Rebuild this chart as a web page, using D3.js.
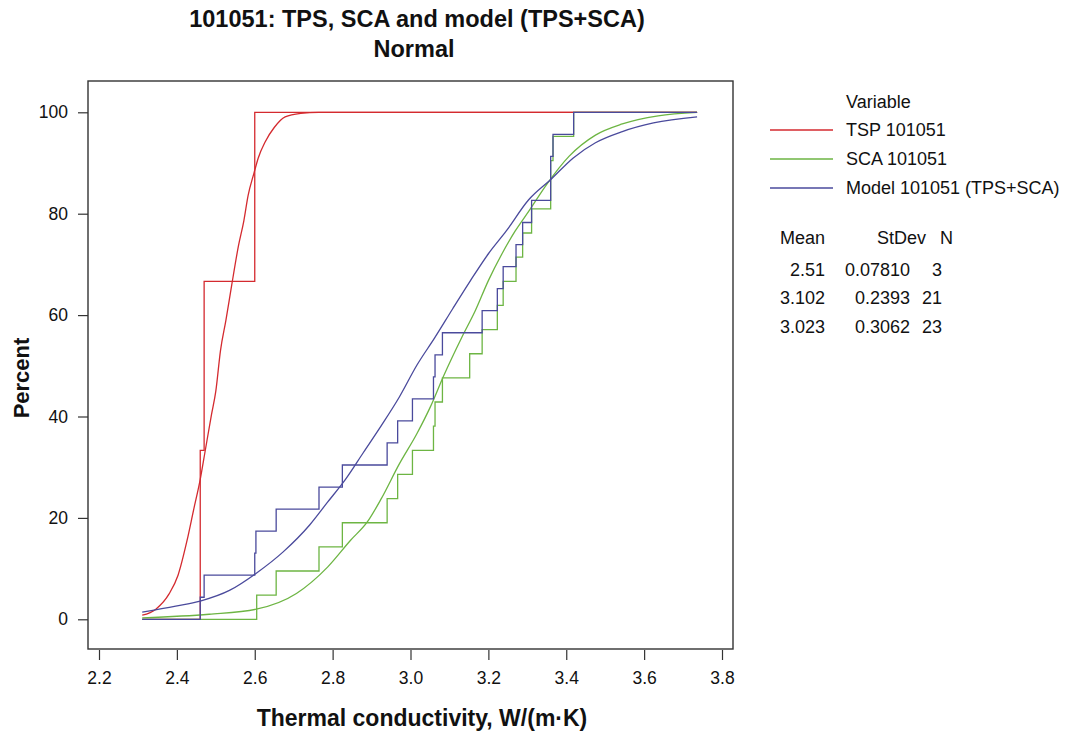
<!DOCTYPE html>
<html>
<head>
<meta charset="utf-8">
<script src="https://cdn.jsdelivr.net/npm/d3@7"></script>
<style>
  html, body { margin: 0; padding: 0; background: #fff; }
  svg { display: block; font-family: "Liberation Sans", Arial, Helvetica, sans-serif; }
</style>
</head>
<body>
<svg id="chart" width="1070" height="734"></svg>
<script>
// ---------------- DATA ----------------
const seriesNames = ["TSP 101051", "SCA 101051", "Model 101051 (TPS+SCA)"];
const seriesColors = ["#d42a2f", "#6db543", "#4a4a9c"];

// sample values (empirical CDF steps)
const tpsValues = [2.460, 2.470, 2.600];
const scaValues = [2.605, 2.655, 2.765, 2.825, 2.940, 2.967, 3.005, 3.059, 3.063, 3.082,
                   3.152, 3.184, 3.223, 3.238, 3.271, 3.288, 3.311, 3.360, 3.360, 3.366, 3.419];
const modelValues = [2.460, 2.470, 2.600, 2.603, 2.655, 2.765, 2.825, 2.940, 2.967, 3.005,
                     3.059, 3.063, 3.082, 3.184, 3.223, 3.238, 3.271, 3.288, 3.311, 3.360,
                     3.360, 3.366, 3.419];

// x extent of all drawn lines
const lineStartX = 2.311;
const lineEndX = 3.736;

// fitted normal curves, read as (x, percent) points
const tpsFitX   = [2.311, 2.346, 2.380, 2.403, 2.426, 2.443, 2.460, 2.472, 2.489, 2.500, 2.512, 2.526, 2.541, 2.558, 2.572, 2.583, 2.598, 2.609, 2.627, 2.650, 2.678, 2.718, 2.764, 3.736];
const tpsFitPct = [0.8,   2.0,   5.0,   8.7,   15.5,  21.6,  27.6,  32.9,  40.4,  45.0,  53.0,  59.0,  66.0,  73.6,  78.6,  83.6,  88.0,  91.0,  94.2,  97.0,  99.1,  99.8,  100,   100];

const scaFitX   = [2.311, 2.483, 2.604, 2.707, 2.787, 2.845, 2.890, 2.925, 2.971, 3.017, 3.051, 3.085, 3.131, 3.166, 3.200, 3.235, 3.269, 3.303, 3.349, 3.407, 3.475, 3.544, 3.636, 3.736];
const scaFitPct = [0.3,   1.0,   2.0,   5.1,   10.3,  15.5,  19.3,  23.8,  30.6,  36.7,  41.9,  48.0,  55.5,  60.8,  66.8,  72.1,  76.6,  80.4,  85.7,  91.3,  95.5,  97.7,  99.3,  100];

const modelFitX   = [2.311, 2.397, 2.460, 2.535, 2.604, 2.673, 2.741, 2.787, 2.833, 2.879, 2.925, 2.971, 3.017, 3.062, 3.108, 3.154, 3.200, 3.246, 3.303, 3.361, 3.418, 3.475, 3.544, 3.624, 3.736];
const modelFitPct = [1.4,   2.6,   3.6,   5.7,   9.1,   13.3,  18.6,  23.1,  27.6,  32.9,  38.2,  43.8,  50.2,  55.5,  61.2,  66.8,  72.1,  76.6,  82.7,  86.8,  91.0,  94.0,  96.2,  97.9,  99.1];

const xTicks = [2.2, 2.4, 2.6, 2.8, 3.0, 3.2, 3.4, 3.6, 3.8];
const yTicks = [0, 20, 40, 60, 80, 100];

const statsHeader = ["Mean", "StDev", "N"];
const statMeans = ["2.51", "3.102", "3.023"];
const statSDs = ["0.07810", "0.2393", "0.3062"];
const statNs = ["3", "21", "23"];

const titleText = "101051: TPS, SCA and model (TPS+SCA)";
const subtitleText = "Normal";
const xLabel = "Thermal conductivity, W/(m\u00B7K)";
const yLabel = "Percent";
const legendTitle = "Variable";

// ---------------- CHART ----------------
const svg = d3.select("#chart");
const frame = { left: 88, right: 733, top: 81, bottom: 649 };

const x = d3.scaleLinear().domain([2.2, 3.8]).range([99, 722]);
const y = d3.scaleLinear().domain([0, 100]).range([619.3, 112.3]);

// frame
svg.append("rect")
  .attr("x", frame.left).attr("y", frame.top)
  .attr("width", frame.right - frame.left).attr("height", frame.bottom - frame.top)
  .attr("fill", "none").attr("stroke", "#333").attr("stroke-width", 1.4);

// axes
const xAxis = d3.axisBottom(x).tickValues(xTicks).tickFormat(d3.format(".1f")).tickSize(10).tickPadding(12);
const gx = svg.append("g").attr("transform", `translate(0,${frame.bottom + 1})`).call(xAxis);
gx.select(".domain").remove();
gx.selectAll("line").attr("stroke", "#333").attr("stroke-width", 1.2);
gx.selectAll("text").attr("font-size", 17.5).attr("fill", "#111").attr("font-family", "Liberation Sans, Arial, sans-serif");

const yAxis = d3.axisLeft(y).tickValues(yTicks).tickSize(10).tickPadding(10);
const gy = svg.append("g").attr("transform", `translate(${frame.left},0)`).call(yAxis);
gy.select(".domain").remove();
gy.selectAll("line").attr("stroke", "#333").attr("stroke-width", 1.2);
gy.selectAll("text").attr("font-size", 17.5).attr("fill", "#111").attr("font-family", "Liberation Sans, Arial, sans-serif");

// lines
const plot = svg.append("g");
const line = d3.line().x(d => x(d[0])).y(d => y(d[1])).curve(d3.curveMonotoneX);
const stepLine = d3.line().x(d => x(d[0])).y(d => y(d[1])).curve(d3.curveStepAfter);

function ecdfPoints(values) {
  const v = values.slice().sort(d3.ascending);
  const n = v.length;
  const pts = [[lineStartX, 0]];
  v.forEach((val, i) => pts.push([val, (i + 1) / n * 100]));
  pts.push([lineEndX, 100]);
  return pts;
}

const fits = [
  d3.zip(tpsFitX, tpsFitPct),
  d3.zip(scaFitX, scaFitPct),
  d3.zip(modelFitX, modelFitPct)
];
const samples = [tpsValues, scaValues, modelValues];

samples.forEach((vals, i) => {
  plot.append("path")
    .attr("d", line(fits[i]))
    .attr("fill", "none").attr("stroke", seriesColors[i]).attr("stroke-width", 1.3)
    .attr("stroke-linejoin", "round");
  plot.append("path")
    .attr("d", stepLine(ecdfPoints(vals)))
    .attr("fill", "none").attr("stroke", seriesColors[i]).attr("stroke-width", 1.3);
});

// titles
svg.append("text").attr("x", 417).attr("y", 27).attr("text-anchor", "middle")
  .attr("font-size", 23.5).attr("font-weight", "bold").attr("fill", "#111").text(titleText);
svg.append("text").attr("x", 414).attr("y", 57).attr("text-anchor", "middle")
  .attr("font-size", 23.5).attr("font-weight", "bold").attr("fill", "#111").text(subtitleText);
svg.append("text").attr("x", 422).attr("y", 726).attr("text-anchor", "middle")
  .attr("font-size", 23).attr("font-weight", "bold").attr("fill", "#111").text(xLabel);
svg.append("text").attr("transform", "translate(29,378) rotate(-90)").attr("text-anchor", "middle")
  .attr("font-size", 22).attr("font-weight", "bold").attr("fill", "#111").text(yLabel);

// legend
const leg = svg.append("g").attr("font-size", 18).attr("fill", "#111");
leg.append("text").attr("x", 846).attr("y", 108).text(legendTitle);
const legY = [130, 159, 188];
seriesNames.forEach((name, i) => {
  leg.append("line").attr("x1", 770).attr("x2", 833).attr("y1", legY[i]).attr("y2", legY[i])
    .attr("stroke", seriesColors[i]).attr("stroke-width", 1.3);
  leg.append("text").attr("x", 846).attr("y", legY[i] + 6).text(name);
});

// stats table
const colRight = [825, 926, 953];
statsHeader.forEach((h, j) => {
  leg.append("text").attr("x", colRight[j]).attr("y", 244).attr("text-anchor", "end").text(h);
});
const rowY = [276, 304, 333];
const valRight = [825, 910, 942];
[statMeans, statSDs, statNs].forEach((col, j) => {
  col.forEach((v, i) => {
    leg.append("text").attr("x", valRight[j]).attr("y", rowY[i]).attr("text-anchor", "end").text(v);
  });
});
</script>
</body>
</html>
